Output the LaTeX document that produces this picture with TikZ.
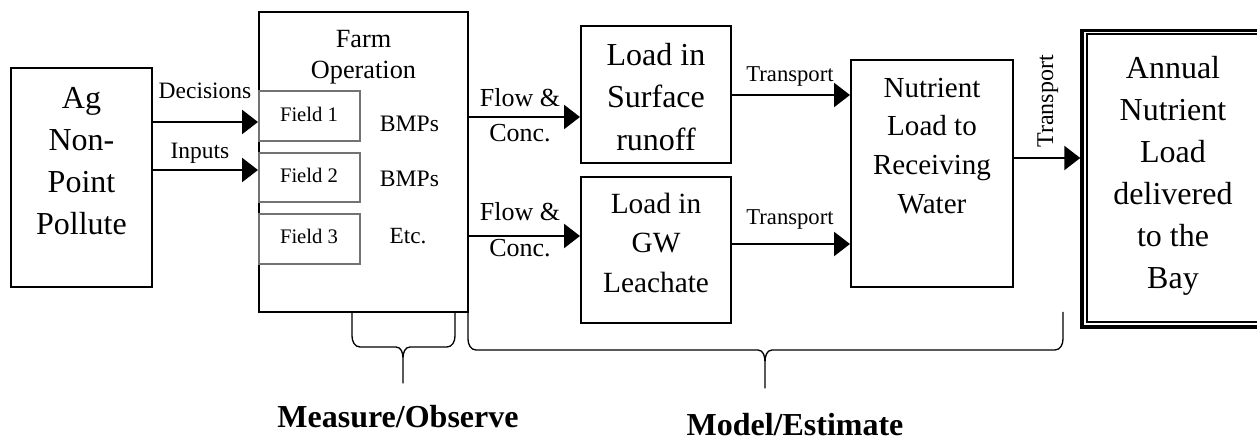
\documentclass[tikz,border=0pt]{standalone}
\usepackage{fontspec}
\setmainfont{Liberation Serif}
\usetikzlibrary{arrows.meta,calc}
\newcommand\myfs[2]{\fontsize{#1}{#2}\selectfont}
\newcommand\firstrule{\rule{0pt}{0.8em}}
\begin{document}
\begin{tikzpicture}[x=0.75pt,y=-0.75pt,
  box/.style={draw,line width=1.5pt,rectangle,inner sep=0pt},
  fieldbox/.style={draw=black!55,line width=0.9pt,rectangle,inner sep=0pt},
  txt/.style={inner sep=0pt,align=center,anchor=north},
  lbl/.style={inner sep=0pt,anchor=base},
  arr/.style={line width=1.9pt,-{Triangle[length=12pt,width=18pt]}},
  brace/.style={line width=1pt,line join=round}]
\useasboundingbox (0,0) rectangle (1257,441);
\clip (0,0) rectangle (1257,441);
% boxes
\node[box,minimum width=141*0.75pt,minimum height=219*0.75pt] (ag) at (81.5,177.5) {};
\node[box,minimum width=209*0.75pt,minimum height=300*0.75pt] (farm) at (363.5,162) {};
\node[fieldbox,minimum width=101*0.75pt,minimum height=50*0.75pt] (f1) at (309.5,116) {};
\node[fieldbox,minimum width=101*0.75pt,minimum height=49*0.75pt] (f2) at (309.5,177.5) {};
\node[fieldbox,minimum width=101*0.75pt,minimum height=50*0.75pt] (f3) at (309.5,239) {};
\node[box,minimum width=150*0.75pt,minimum height=137*0.75pt] (surf) at (656,94.5) {};
\node[box,minimum width=150*0.75pt,minimum height=146*0.75pt] (gw) at (656,250) {};
\node[box,minimum width=162*0.75pt,minimum height=227*0.75pt] (nut) at (932,173.5) {};
\node[draw,line width=2.6pt,rectangle,inner sep=0pt,minimum width=218*0.75pt,minimum height=296.5*0.75pt] (bay) at (1191,178.75) {};
\draw[line width=1.7pt] ($(bay.north west)+(6.5,5)$) rectangle ($(bay.south east)+(-6.5,-7)$);
% box texts
\node[txt,font=\myfs{24}{31.5}] (agt) at (81.5,82.4) {\firstrule Ag\\Non-\\Point\\Pollute};
\node[txt,font=\myfs{19.7}{23.25}] (farmt) at (363.5,26) {\firstrule Farm\\Operation};
\node[txt,font=\myfs{24}{31.9}] (surft) at (656,39.4) {\firstrule Load in\\Surface\\runoff};
\node[txt,font=\myfs{22}{29.6}] (gwt) at (656,189.4) {\firstrule Load in\\GW\\Leachate};
\node[txt,font=\myfs{21.8}{29}] (nutt) at (932,73.8) {\firstrule Nutrient\\Load to\\Receiving\\Water};
\node[txt,font=\myfs{24}{31.5}] (bayt) at (1173,52.4) {\firstrule Annual\\Nutrient\\Load\\delivered\\to the\\Bay};
% field texts
\node[lbl,font=\myfs{15.5}{18}] (f1t) at (309,121.7) {Field 1};
\node[lbl,font=\myfs{15.5}{18}] (f2t) at (309,183) {Field 2};
\node[lbl,font=\myfs{15.5}{18}] (f3t) at (309,244) {Field 3};
\node[lbl,font=\myfs{17.7}{20}] (b1) at (409.5,131.7) {BMPs};
\node[lbl,font=\myfs{17.7}{20}] (b2) at (409.5,186.7) {BMPs};
\node[lbl,font=\myfs{17.4}{20}] (etc) at (408,244) {Etc.};
% arrows
\draw[arr] (ag.east |- 0,122) -- (farm.west |- 0,122);
\draw[arr] (ag.east |- 0,170) -- (farm.west |- 0,170);
\draw[arr] (farm.east |- 0,117) -- (surf.west |- 0,117);
\draw[arr] (farm.east |- 0,236) -- (gw.west |- 0,236);
\draw[arr] (surf.east |- 0,95) -- (nut.west |- 0,95);
\draw[arr] (gw.east |- 0,244) -- (nut.west |- 0,244);
\draw[arr] (nut.east |- 0,158) -- (bay.west |- 0,158);
% arrow labels
\node[lbl,font=\myfs{17.6}{20}] (ldec) at (205,99) {Decisions};
\node[lbl,font=\myfs{17.6}{20}] (linp) at (200,158.5) {Inputs};
\node[lbl,font=\myfs{19.5}{22}] (lfl1) at (520,107) {Flow \&};
\node[lbl,font=\myfs{19.5}{22}] (lco1) at (520,142) {Conc.};
\node[lbl,font=\myfs{19.5}{22}] (lfl2) at (520,221) {Flow \&};
\node[lbl,font=\myfs{19.5}{22}] (lco2) at (520,257) {Conc.};
\node[lbl,font=\myfs{17}{20}] (ltr1) at (790,82) {Transport};
\node[lbl,font=\myfs{17}{20}] (ltr2) at (790,225) {Transport};
\node[lbl,font=\myfs{18}{20},rotate=90] (ltr3) at (1053,101.5) {Transport};
% braces
\draw[brace] (352,312) -- (352,336) to[out=-90,in=180] (360,347) -- (396,347)
  to[out=0,in=90] (403,358) -- (403,383) -- (403,358) to[out=90,in=180] (410,347)
  -- (447,347) to[out=0,in=-90] (455,336) -- (455,312);
\draw[brace] (468,312) -- (468,339) to[out=-90,in=180] (476,350) -- (758,350)
  to[out=0,in=90] (765,362) -- (765,388) -- (765,362) to[out=90,in=180] (772,350)
  -- (1055,350) to[out=0,in=-90] (1063,339) -- (1063,312);
\node[lbl,font=\bfseries\myfs{24}{28}] (lmeas) at (398,428) {Measure/Observe};
\node[lbl,font=\bfseries\myfs{24}{28}] (lmod) at (795,435.5) {Model/Estimate};
\end{tikzpicture}
\end{document}
